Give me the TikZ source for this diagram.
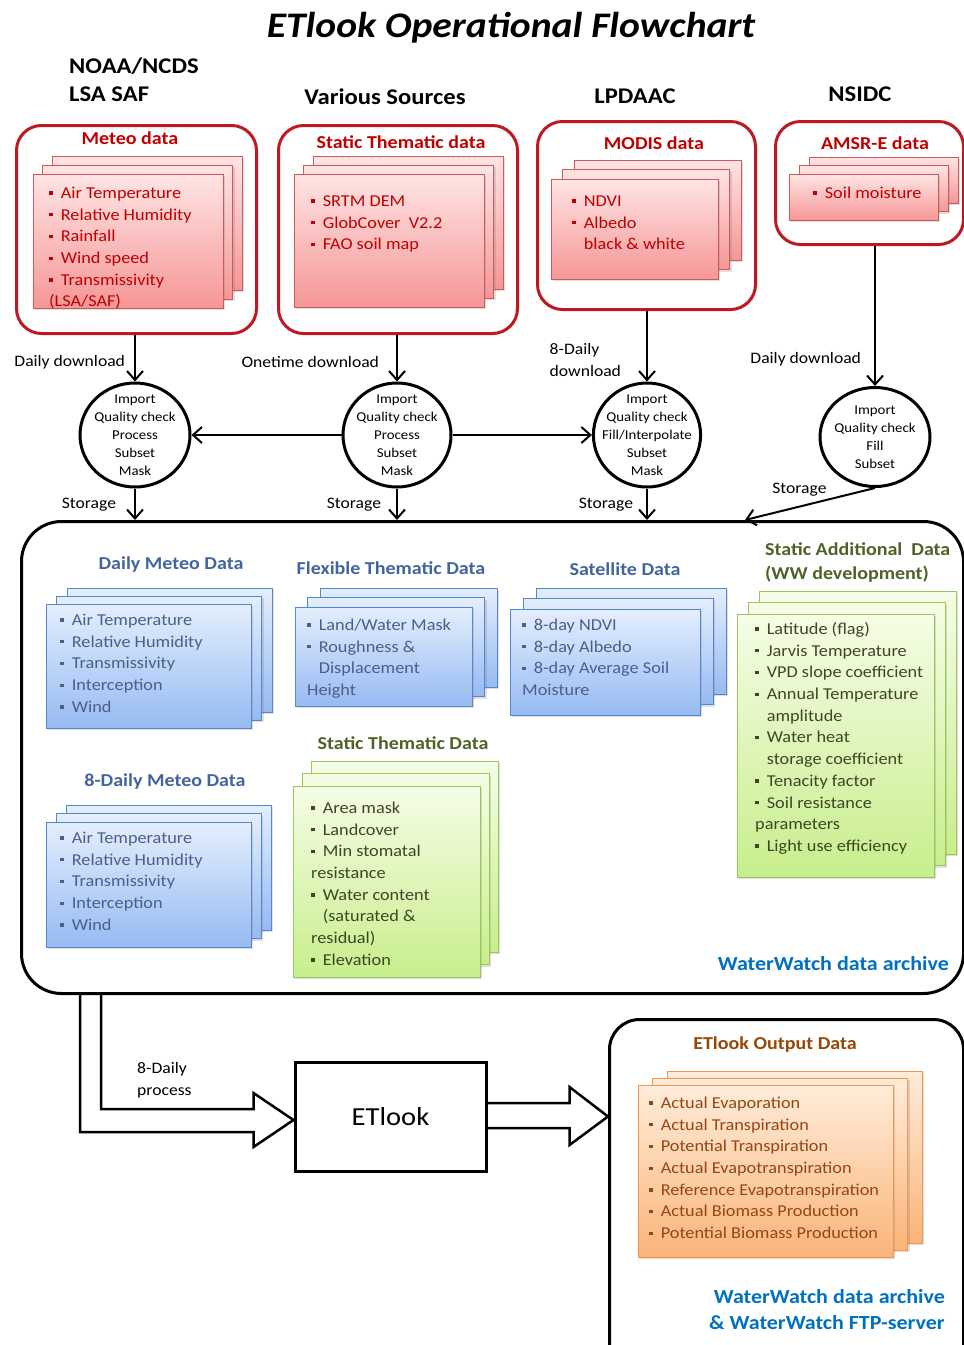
\documentclass[tikz,border=0pt]{standalone}
\usepackage{fontspec}
\setmainfont{Carlito}[FakeStretch=1.1]
\usetikzlibrary{shapes.geometric,arrows.meta,shadows}
\definecolor{redline}{RGB}{192,24,32}
\definecolor{redtext}{RGB}{192,0,0}
\definecolor{redtop}{RGB}{255,228,228}
\definecolor{redbot}{RGB}{245,150,150}
\definecolor{redborder}{RGB}{205,90,90}
\definecolor{bluetop}{RGB}{228,238,253}
\definecolor{bluebot}{RGB}{150,186,242}
\definecolor{blueborder}{RGB}{85,135,205}
\definecolor{bluehead}{RGB}{66,100,160}
\definecolor{bluetext}{RGB}{75,95,140}
\definecolor{greentop}{RGB}{245,253,230}
\definecolor{greenbot}{RGB}{200,238,140}
\definecolor{greenborder}{RGB}{150,200,90}
\definecolor{greenhead}{RGB}{79,98,40}
\definecolor{greentext}{RGB}{60,72,35}
\definecolor{orangetop}{RGB}{255,236,218}
\definecolor{orangebot}{RGB}{250,180,120}
\definecolor{orangeborder}{RGB}{240,150,80}
\definecolor{orangehead}{RGB}{151,71,6}
\definecolor{orangetext}{RGB}{150,70,20}
\definecolor{wwblue}{RGB}{0,112,192}
\newcommand{\fs}[2]{\fontsize{#1}{#2}\selectfont}
\newcommand{\itm}{\strut\rule[0.22em]{0.2em}{0.2em}\hspace{0.5em}}
\newcommand{\ind}{\hspace{0.7em}}
\newcommand{\pages}[8]{%
    \foreach \k in {2,1}
        \draw[#1] (#3+#7*\k, #4-#8*\k) rectangle ++(#5,#6);
    \node[#1, anchor=north west, minimum width=#5pt, minimum height=#6pt, inner sep=0pt] (#2) at (#3,#4) {};
}
\tikzset{
    shade/.style={drop shadow={opacity=0.25, shadow xshift=2pt, shadow yshift=-2pt}},
    redpage/.style={draw=redborder, line width=0.8pt, top color=redtop, bottom color=redbot, shade},
    bluepage/.style={draw=blueborder, line width=0.8pt, top color=bluetop, bottom color=bluebot, shade},
    greenpage/.style={draw=greenborder, line width=0.8pt, top color=greentop, bottom color=greenbot, shade},
    orangepage/.style={draw=orangeborder, line width=0.8pt, top color=orangetop, bottom color=orangebot, shade},
    pagetext/.style={anchor=north west, align=left, inner sep=0pt, font=\fs{16.6}{21.7}},
    redtext/.style={pagetext, text=redtext},
    bluetext/.style={pagetext, text=bluetext},
    greentext/.style={pagetext, text=greentext},
    orangetext/.style={pagetext, text=orangetext},
    head/.style={inner sep=0pt, font=\fs{18.2}{24}\bfseries},
    redhead/.style={head, text=redtext},
    bluehead/.style={head, text=bluehead},
    greenhead/.style={head, text=greenhead},
    orangehead/.style={head, text=orangehead},
    source/.style={inner sep=0pt, font=\fs{22.4}{28}\bfseries},
    wwnote/.style={inner sep=0pt, text=wwblue, font=\fs{20}{26}\bfseries},
    note/.style={inner sep=0pt, align=left, font=\fs{16}{22}},
    redframe/.style={draw=redline, line width=3pt, rounded corners=25pt, anchor=north west},
    archive/.style={draw, line width=3pt, fill=white, anchor=north west},
    proc/.style={draw, ellipse, line width=3pt, fill=white, inner sep=-7pt, align=center, font=\fs{13.5}{18}},
    flow/.style={draw, line width=2pt, -{Straight Barb[length=9pt, width=16pt, line width=2pt]}},
    blockarrow/.style={draw, line width=2.5pt, line join=miter}
}

\begin{document}
\begin{tikzpicture}[x=1pt, y=-1pt]
    \useasboundingbox (0,0) rectangle (964,1345);

    \node[inner sep=0pt, font=\fs{36}{40}\bfseries\itshape] (title) at (511,28) {ETlook Operational Flowchart};
    \node[source, anchor=west, align=left] (src-meteo) at (69,80) {NOAA/NCDS\\LSA SAF};
    \node[source] (src-thematic) at (385,97) {Various Sources};
    \node[source] (src-modis) at (635,96) {LPDAAC};
    \node[source] (src-amsr) at (860,94) {NSIDC};

    \node[redframe, minimum width=240pt, minimum height=208pt] (meteo) at (15,124) {};
    \node[redframe, minimum width=239pt, minimum height=208pt] (thematic) at (277,124) {};
    \node[redframe, minimum width=218pt, minimum height=188pt] (modis) at (536,120) {};
    \node[redframe, minimum width=188pt, minimum height=123pt] (amsr) at (774,120) {};
    \node[redhead] (meteo-head) at (130,138) {Meteo data};
    \node[redhead] (thematic-head) at (401,142) {Static Thematic data};
    \node[redhead] (modis-head) at (654,143) {MODIS data};
    \node[redhead] (amsr-head) at (875,143) {AMSR-E data};

    \pages{redpage}{meteo-page}{33}{174}{190}{134}{9.5}{9}
    \node[redtext] (meteo-list) at (49,183) {\itm Air Temperature\\\itm Relative Humidity\\\itm Rainfall\\\itm Wind speed\\\itm Transmissivity\\(LSA/SAF)};
    \pages{redpage}{thematic-page}{294}{174}{190}{133}{9.5}{9}
    \node[redtext] (thematic-list) at (311,191) {\itm SRTM DEM\\\itm GlobCover\ \ V2.2\\\itm FAO soil map};
    \pages{redpage}{modis-page}{551}{179}{167}{100}{11.5}{9.5}
    \node[redtext] (modis-list) at (572,191) {\itm NDVI\\\itm Albedo\\\ind black \& white};
    \pages{redpage}{amsr-page}{789}{174}{149}{46}{10}{8.5}
    \node[redtext] (amsr-list) at (813,183) {\itm Soil moisture};

    \node[archive, rounded corners=40pt, minimum width=942pt, minimum height=472pt] (archive) at (20,520) {};
    \coordinate (amsr-in) at (745,520);

    \node[proc, minimum width=110pt, minimum height=104pt] (meteo-proc) at (135,435) {Import\\Quality check\\Process\\Subset\\Mask};
    \node[proc, minimum width=108pt, minimum height=104pt] (thematic-proc) at (397,435) {Import\\Quality check\\Process\\Subset\\Mask};
    \node[proc, minimum width=107pt, minimum height=104pt] (modis-proc) at (647,435) {Import\\Quality check\\Fill/Interpolate\\Subset\\Mask};
    \node[proc, minimum width=110pt, minimum height=99pt] (amsr-proc) at (875,437) {Import\\Quality check\\Fill\\Subset};

    \draw[flow] (meteo.south -| meteo-proc) -- node[note, left=9pt, pos=0.59] (meteo-dl) {Daily download} (meteo-proc.north);
    \draw[flow] (thematic.south -| thematic-proc) -- node[note, left=17pt, pos=0.57] (thematic-dl) {Onetime download} (thematic-proc.north);
    \draw[flow] (modis.south -| modis-proc) -- node[note, left=25pt, pos=0.69] (modis-dl) {8-Daily\\download} (modis-proc.north);
    \draw[flow] (amsr.south -| amsr-proc) -- node[note, left=13pt, pos=0.81] (amsr-dl) {Daily download} (amsr-proc.north);
    \draw[flow] (thematic-proc.west) -- (meteo-proc.east);
    \draw[flow] (thematic-proc.east) -- (modis-proc.west);
    \draw[flow] (meteo-proc.south) -- node[note, left=18pt] (meteo-store) {Storage} (meteo-proc.south |- archive.north);
    \draw[flow] (thematic-proc.south) -- node[note, left=15pt] (thematic-store) {Storage} (thematic-proc.south |- archive.north);
    \draw[flow] (modis-proc.south) -- node[note, left=13pt] (modis-store) {Storage} (modis-proc.south |- archive.north);
    \draw[flow] (amsr-proc.south) -- node[note, above left=2pt, pos=0.35] (amsr-store) {Storage} (amsr-in);

    \node[bluehead] (daily-head) at (171,565) {Daily Meteo Data};
    \node[bluehead] (flex-head) at (391,568) {Flexible Thematic Data};
    \node[bluehead] (sat-head) at (625,569) {Satellite Data};
    \node[greenhead, anchor=west, align=left] (add-head) at (765,563) {Static Additional\ \ Data\\(WW development)};
    \node[greenhead] (static-head) at (403,743) {Static Thematic Data};
    \node[bluehead] (eight-head) at (165,782) {8-Daily Meteo Data};

    \pages{bluepage}{daily-page}{46}{604}{205}{124}{10.5}{8}
    \node[bluetext] (daily-list) at (60,610) {\itm Air Temperature\\\itm Relative Humidity\\\itm Transmissivity\\\itm Interception\\\itm Wind};
    \pages{bluepage}{flex-page}{295}{607}{177}{99}{12.5}{9.5}
    \node[bluetext] (flex-list) at (307,615) {\itm Land/Water Mask\\\itm Roughness \&\\\ind Displacement\\Height};
    \pages{bluepage}{sat-page}{510}{609}{190}{106}{13}{10.5}
    \node[bluetext] (sat-list) at (522,615) {\itm 8-day NDVI\\\itm 8-day Albedo\\\itm 8-day Average Soil\\Moisture};
    \pages{greenpage}{add-page}{737}{614}{197}{263}{11}{11.5}
    \node[greentext] (add-list) at (755,619) {\itm Latitude (flag)\\\itm Jarvis Temperature\\\itm VPD slope coefficient\\\itm Annual Temperature\\\ind amplitude\\\itm Water heat\\\ind storage coefficient\\\itm Tenacity factor\\\itm Soil resistance\\parameters\\\itm Light use efficiency};
    \pages{greenpage}{static-page}{293}{786}{187}{191}{9}{12.5}
    \node[greentext] (static-list) at (311,798) {\itm Area mask\\\itm Landcover\\\itm Min stomatal\\resistance\\\itm Water content\\\ind (saturated \&\\residual)\\\itm Elevation};
    \pages{bluepage}{eight-page}{46}{822}{205}{125}{10}{8.5}
    \node[bluetext] (eight-list) at (60,828) {\itm Air Temperature\\\itm Relative Humidity\\\itm Transmissivity\\\itm Interception\\\itm Wind};
    \node[wwnote, anchor=east] (archive-name) at (949,964) {WaterWatch data archive};

    \node[draw, line width=3pt, minimum width=191pt, minimum height=109pt, font=\fs{26}{30}] (etlook) at (390.5,1116.5) {ETlook};
    \node[archive, rounded corners=30pt, minimum width=354pt, minimum height=360pt] (output) at (608,1018) {};
    \node[note, anchor=west] (process-note) at (137,1080) {8-Daily\\process};
    \draw[blockarrow] ([xshift=60pt]archive.south west) |- ([xshift=-40pt, yshift=-15.5pt]etlook.west) -- ++(0,15)
        -- ([yshift=-3.5pt]etlook.west) -- ([xshift=-40pt, yshift=23.5pt]etlook.west) -- ++(0,16) -| ([xshift=81pt]archive.south west);
    \draw[blockarrow] ([yshift=13.5pt]etlook.east) -- ++(82,0) -- ++(0,-16) -- (etlook.east -| output.west)
        -- ([xshift=82pt, yshift=-28.5pt]etlook.east) -- ++(0,-17) -- ([yshift=-11.5pt]etlook.east);

    \node[orangehead] (out-head) at (775,1045) {ETlook Output Data};
    \pages{orangepage}{out-page}{638}{1085}{255}{172}{14.5}{7}
    \node[orangetext] (out-list) at (649,1093) {\itm Actual Evaporation\\\itm Actual Transpiration\\\itm Potential Transpiration\\\itm Actual Evapotranspiration\\\itm Reference Evapotranspiration\\\itm Actual Biomass Production\\\itm Potential Biomass Production};
    \node[wwnote, anchor=east, align=right] (output-name) at (945,1310) {WaterWatch data archive\\\& WaterWatch FTP-server};
\end{tikzpicture}
\end{document}
